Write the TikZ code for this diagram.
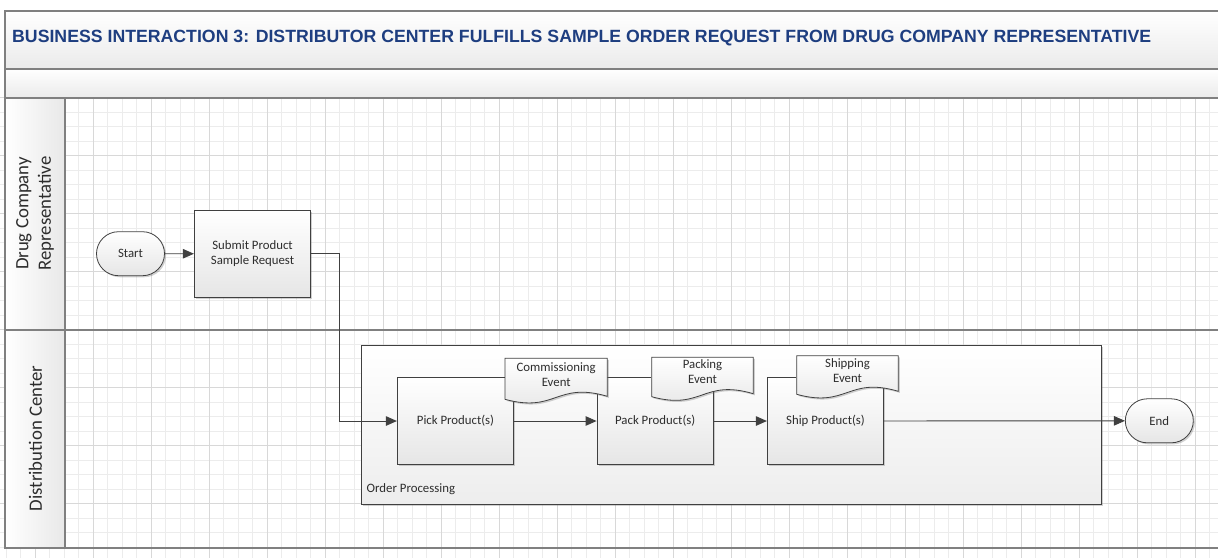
\documentclass[tikz,border=0pt]{standalone}
\usepackage{fontspec}
\setmainfont{Carlito}
\newfontfamily\titlefont{Liberation Sans}
\usetikzlibrary{arrows.meta,shapes.misc,shadows}
\definecolor{titleblue}{RGB}{30,62,128}
\definecolor{lanegray}{RGB}{128,128,128}
\definecolor{boxline}{RGB}{64,64,64}
\definecolor{gridminor}{RGB}{236,236,236}
\definecolor{gridmajor}{RGB}{216,216,216}
\definecolor{txt}{RGB}{45,45,45}
\tikzset{
  bodyfont/.style={font=\fontsize{12.8}{15}\selectfont, text=txt},
  shade box/.style={top color=white, bottom color=black!10},
  shadowed/.style={drop shadow={shadow xshift=1.6pt, shadow yshift=-1.6pt, opacity=0.3, fill=black!60}},
  proc/.style={draw=boxline, line width=0.8pt, shade box, shadowed, bodyfont,
    minimum width=116.4, minimum height=87.5, align=center, inner sep=2pt},
  term/.style={rounded rectangle, draw=boxline, line width=0.8pt, shade box, shadowed, bodyfont,
    minimum width=72, minimum height=44, inner sep=2pt},
  container/.style={draw=boxline, line width=0.8pt, top color=white, bottom color=black!7, shadowed,
    minimum width=740, minimum height=159, inner sep=0pt},
  docstyle/.style={draw=boxline, line width=0.8pt, shade box, shadowed},
  doctext/.style={bodyfont, align=center, inner sep=0pt},
  flow/.style={draw=boxline, line width=0.9pt, -{Triangle[length=11pt,width=9.5pt]}},
  lanelabel/.style={rotate=90, align=center, text=txt, font=\fontsize{18.8}{22.5}\selectfont, inner sep=0pt},
  laneline/.style={draw=lanegray, line width=1.7pt},
  headfill/.style={left color=white, right color=black!9},
  bandfill/.style={top color=white, bottom color=black!8},
}
\newcommand{\docshape}[4]{%
  \path[docstyle] (#1,#2) -- ({#1+#3},#2) -- ({#1+#3},{#2+#4-3})
    .. controls ({#1+0.5*#3},{#2+#4-18}) and ({#1+0.5*#3},{#2+#4+14}) .. (#1,{#2+#4}) -- cycle;}
\begin{document}
\begin{tikzpicture}[x=1pt,y=-1pt]
\useasboundingbox (0,0) rectangle (1218,558);
\fill[white] (0,0) rectangle (1218,558);
% grid
\foreach \i in {0,...,83} { \draw[gridminor, line width=0.8pt] ({6.3+14.5*\i},97.7) -- ({6.3+14.5*\i},558); }
\foreach \j in {0,...,31} { \draw[gridminor, line width=0.8pt] (0,{97.7+14.5*\j}) -- (1218,{97.7+14.5*\j}); }
\foreach \i in {0,...,20} { \draw[gridmajor, line width=0.9pt] ({35.3+58*\i},97.7) -- ({35.3+58*\i},558); }
\foreach \j in {0,...,7} { \draw[gridmajor, line width=0.9pt] (0,{97.7+58*\j}) -- (1218,{97.7+58*\j}); }
% bands
\path[bandfill] (5.3,10.7) rectangle (1225,69);
\path[bandfill] (5.3,69) rectangle (1225,97.7);
\path[headfill] (5.3,97.7) rectangle (65,330);
\path[headfill] (5.3,330) rectangle (65,548.3);
\draw[laneline] (1225,10.7) -- (5.3,10.7) -- (5.3,548.3) -- (1225,548.3);
\draw[laneline] (5.3,69) -- (1225,69);
\draw[laneline] (5.3,97.7) -- (1225,97.7);
\draw[laneline] (5.3,330) -- (1225,330);
\draw[lanegray, line width=1.2pt] (65,97.7) -- (65,548.3);
% title
\node[anchor=base west, inner sep=0pt, text=titleblue, font=\titlefont\bfseries\fontsize{17.7}{20}\selectfont] (title) at (12,42)
  {BUSINESS INTERACTION 3: DISTRIBUTOR CENTER FULFILLS SAMPLE ORDER REQUEST FROM DRUG COMPANY REPRESENTATIVE};
% lane labels
\node[lanelabel] (lane1) at (35,213.5) {Drug Company\\Representative};
\node[lanelabel] (lane2) at (35.5,438.5) {Distribution Center};
% container
\node[container] (op) at (731,424.5) {};
\node[bodyfont, anchor=west, inner sep=0pt] (oplabel) at (366.5,489.5) {Order Processing};
% nodes
\node[term] (start) at (130.5,253.7) {Start};
\node[proc] (submit) at (252.5,253.8) {Submit Product\\Sample Request};
\node[proc] (pick) at (455.5,421) {Pick Product(s)};
\node[proc] (pack) at (655.2,421) {Pack Product(s)};
\node[proc] (ship) at (825.5,421) {Ship Product(s)};
\node[term] (end) at (1159.3,420.8) {End};
% documents
\docshape{505}{358.3}{102.3}{41}
\node[doctext] (ce) at (556.2,374.3) {Commissioning\\Event};
\docshape{651.7}{357.3}{101.6}{39.4}
\node[doctext] (pe) at (702.5,371.7) {Packing\\Event};
\docshape{796.7}{355.7}{101.6}{38.6}
\node[doctext] (se) at (847.5,370.8) {Shipping\\Event};
% connectors
\draw[flow] (start) -- (submit);
\draw[flow] (submit.east) -- ++(28.6,0) |- (pick.west);
\draw[flow] (pick) -- (pack);
\draw[flow] (pack) -- (ship);
\draw[flow] (ship) -- (end);
\end{tikzpicture}
\end{document}
